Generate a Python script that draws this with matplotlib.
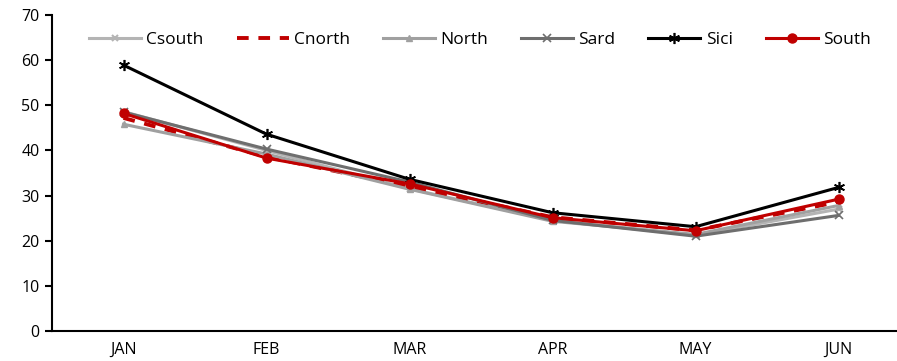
import matplotlib
matplotlib.use("Agg")
import matplotlib.pyplot as plt
import numpy as np

months = ["JAN", "FEB", "MAR", "APR", "MAY", "JUN"]
csouth = [48.6, 40.0, 31.5, 24.5, 21.2, 27.0]
cnorth = [47.2, 38.6, 32.0, 25.2, 22.3, 28.6]
north = [45.8, 39.2, 31.4, 24.3, 21.4, 27.8]
sard = [48.5, 40.3, 33.0, 24.5, 21.0, 25.6]
sici = [58.9, 43.6, 33.6, 26.2, 23.1, 31.8]
south = [48.2, 38.3, 32.6, 25.1, 22.2, 29.2]

plt.rcParams['font.family'] = ['Open Sans', 'DejaVu Sans']

fig = plt.figure(figsize=(8.97, 3.61), dpi=100)
ax = fig.add_axes([52/897, 30/361, 858/897, 316/361])
x = np.arange(len(months))

ax.plot(x, csouth, color='#b4b4b4', lw=2.2, marker='x', ms=5, mew=1.5, label='Csouth')
ax.plot(x, cnorth, color='#c00000', lw=2.8, ls=(0, (3, 2.5)), label='Cnorth')
ax.plot(x, north, color='#a0a0a0', lw=2.2, marker='^', ms=5, label='North')
ax.plot(x, sard, color='#6e6e6e', lw=2.2, marker='x', ms=6, mew=1.2, label='Sard')
ax.plot(x, sici, color='black', lw=2.2, marker=(6, 2, 0), ms=8, mew=1.2, label='Sici')
ax.plot(x, south, color='#c00000', lw=2.2, marker='o', ms=6.5, label='South')

ax.set_xlim(-0.5, 5.5)
ax.set_ylim(0, 70)
ax.set_yticks(range(0, 71, 10))
ax.set_xticks(x)
ax.set_xticklabels(months)
ax.tick_params(axis='x', length=0, pad=8, labelsize=11.5)
ax.tick_params(axis='y', length=5, width=1.5, direction='out', labelsize=11.5, pad=4)
ax.spines['top'].set_visible(False)
ax.spines['right'].set_visible(False)
ax.spines['left'].set_linewidth(1.5)
ax.spines['bottom'].set_linewidth(1.5)

ax.legend(loc='upper left', bbox_to_anchor=(0.025, 0.995), ncol=6, frameon=False,
          fontsize=12.5, handlelength=3, columnspacing=1.9, handletextpad=0.3)

fig.savefig('out.png', dpi=100)
